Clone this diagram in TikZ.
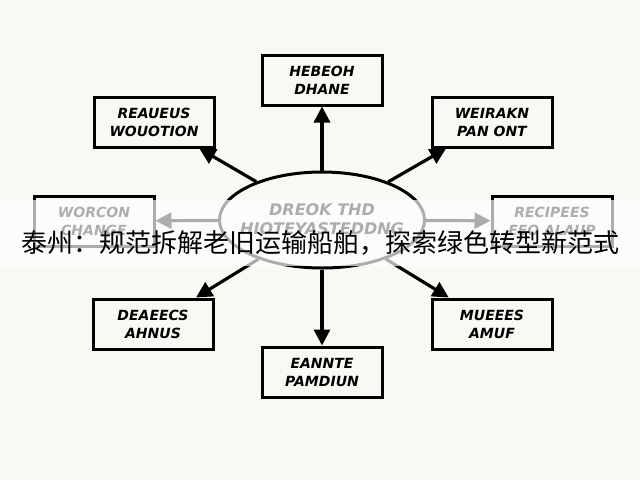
\documentclass[tikz,border=0pt]{standalone}
\usepackage{fontspec}
\usetikzlibrary{shapes.geometric,arrows.meta}
\newfontfamily\cjkfont{Noto Sans CJK SC}
\newfontfamily\boxfont{DejaVu Sans}
\definecolor{bg}{HTML}{FAF8F3}
\begin{document}
\begin{tikzpicture}[x=1pt,y=-1pt,
  box/.style={draw, line width=3pt, fill=bg, minimum width=120pt, minimum height=50pt,
    inner sep=2pt, align=center, font=\boxfont\bfseries\itshape\fontsize{14}{18}\selectfont},
  hub/.style={ellipse, draw, line width=3pt, fill=bg, minimum width=205pt, minimum height=96pt,
    inner sep=0pt},
  hubtext/.style={align=center, inner sep=0pt, font=\boxfont\bfseries\itshape\fontsize{16}{19}\selectfont},
  conn/.style={line width=3.2pt, -{Triangle[length=16pt,width=16pt]}}]
\fill[bg] (0,0) rectangle (640,480);
\useasboundingbox (0,0) rectangle (640,480);
\node[hub] (hub) at (322,220) {};
\node[hubtext] (hubt) at (322,219) {DREOK THD\\HIOTEYASTEDDNG};
\node[box] (top) at (322,80) {HEBEOH\\DHANE};
\node[box] (tl) at (154,122) {REAUEUS\\WOUOTION};
\node[box] (tr) at (492,122) {WEIRAKN\\PAN ONT};
\node[box] (l) at (94,221) {WORCON\\CHANGE};
\node[box] (r) at (552,221) {RECIPEES\\EEO ALAUP};
\node[box] (bl) at (153,324) {DEAEECS\\AHNUS};
\node[box] (br) at (492,324) {MUEEES\\AMUF};
\node[box] (bot) at (322,372) {EANNTE\\PAMDIUN};
\foreach \t in {top,tl,tr,l,r,bl,br,bot}
  \draw[conn] (hub) -- (\t);
\fill[white, opacity=0.68] (0,200) rectangle (640,266);
\node (title) at (320,243) {\cjkfont\fontsize{26}{30}\selectfont 泰州：规范拆解老旧运输船舶，探索绿色转型新范式};
\end{tikzpicture}
\end{document}
